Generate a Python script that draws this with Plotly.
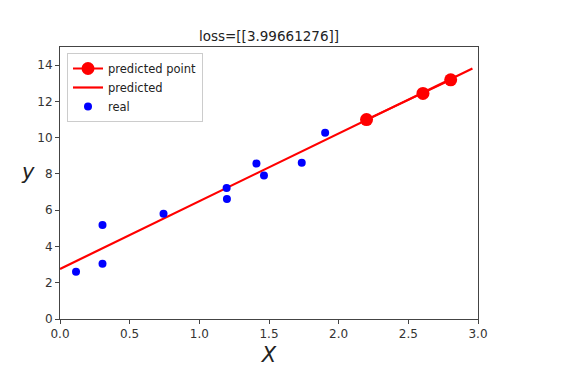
import plotly.graph_objects as go

real_x = [0.115, 0.305, 0.305, 0.743, 1.198, 1.196, 1.41, 1.464, 1.735, 1.903]
real_y = [2.61, 3.04, 5.18, 5.80, 6.62, 7.22, 8.57, 7.92, 8.62, 10.27]
pred_x = [2.2, 2.605, 2.804]
pred_y = [11.0, 12.44, 13.19]
line_x = [0.0, 2.96]
line_y = [2.76, 13.82]
x_ticks = [0.0, 0.5, 1.0, 1.5, 2.0, 2.5, 3.0]
y_ticks = [0, 2, 4, 6, 8, 10, 12, 14]
title_text = "loss=[[3.99661276]]"

W, H = 578, 374
OFF = 8  # page body margin
L, R, T, B = 60 - OFF, W - (478 - OFF), 47 - OFF, H - (319 - OFF)
PW, PH = W - L - R, H - T - B

fig = go.Figure()
fig.add_trace(go.Scatter(x=pred_x, y=pred_y, mode="lines+markers", name="predicted point",
                         line=dict(color="red", width=2), marker=dict(color="red", size=13)))
fig.add_trace(go.Scatter(x=line_x, y=line_y, mode="lines", name="predicted",
                         line=dict(color="red", width=2.2)))
fig.add_trace(go.Scatter(x=real_x, y=real_y, mode="markers", name="real",
                         marker=dict(color="blue", size=8)))

axis_common = dict(showgrid=False, zeroline=False, showline=True, linecolor="#444", linewidth=1,
                   mirror=True, ticks="outside", ticklen=4, tickcolor="#444", automargin=False,
                   tickfont=dict(family="DejaVu Sans", size=12, color="#333"))
fig.update_layout(
    width=W, height=H,
    margin=dict(l=L, r=R, t=T, b=B, autoexpand=False),
    paper_bgcolor="white", plot_bgcolor="white",
    title=dict(text=title_text, x=(L + PW / 2) / W, xanchor="center", y=1 - (36 - OFF) / H, yanchor="middle",
               font=dict(family="DejaVu Sans", size=13.5, color="#222")),
    xaxis=dict(range=[0, 3], tickvals=x_ticks, ticktext=["%.1f" % v for v in x_ticks],
               title=dict(text="<i>X</i>", font=dict(family="DejaVu Sans", size=21, color="#222"), standoff=6),
               **axis_common),
    yaxis=dict(range=[0, 15], tickvals=y_ticks, **axis_common),
    legend=dict(x=7 / PW, y=1 - 6 / PH, xanchor="left", yanchor="top", bgcolor="white",
                bordercolor="#ccc", borderwidth=1, font=dict(family="DejaVu Sans", size=11.5, color="#222"),
                tracegroupgap=0, itemwidth=30),
    annotations=[dict(text="<i>y</i>", xref="paper", yref="paper",
                      x=-32 / PW, y=(319 - 172) / PH,
                      xanchor="center", yanchor="middle", showarrow=False,
                      font=dict(family="DejaVu Sans", size=21, color="#222"))],
    showlegend=True,
)
fig.write_html("out.html")
